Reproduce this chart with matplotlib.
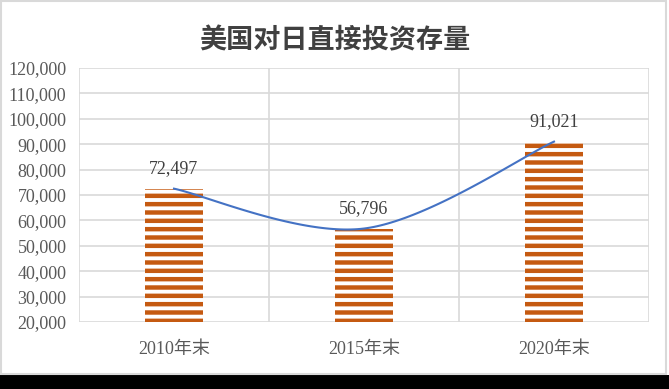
import matplotlib
matplotlib.use("Agg")
import matplotlib.pyplot as plt
from matplotlib.patches import Rectangle
from matplotlib.ticker import FuncFormatter
import numpy as np

categories = ["2010年末", "2015年末", "2020年末"]
values = [72497, 56796, 91021]
y_ticks = list(range(20000, 120001, 10000))

plt.rcParams['font.family'] = ['Liberation Serif', 'Noto Sans CJK SC']
plt.rcParams['hatch.linewidth'] = 3.2

fig = plt.figure(figsize=(6.69, 3.89), dpi=100)
ax = fig.add_axes([79 / 669, 67 / 389, 570 / 669, 254 / 389])

x = np.arange(len(categories))
ax.bar(x, [v - y_ticks[0] for v in values], bottom=y_ticks[0], width=0.31,
       facecolor='white', edgecolor='#C55A11', hatch='--', linewidth=0, zorder=2)


def smooth(xs, ys, n=60):
    # Catmull-Rom style smoothing like Excel's smoothed line
    px = np.concatenate([[xs[0]], xs, [xs[-1]]]).astype(float)
    py = np.concatenate([[ys[0]], ys, [ys[-1]]]).astype(float)
    ox, oy = [], []
    for i in range(1, len(px) - 2):
        p0, p1, p2, p3 = (np.array([px[j], py[j]]) for j in range(i - 1, i + 3))
        c1 = p1 + (p2 - p0) / 6
        c2 = p2 - (p3 - p1) / 6
        t = np.linspace(0, 1, n)[:, None]
        pts = ((1 - t) ** 3) * p1 + 3 * ((1 - t) ** 2) * t * c1 + 3 * (1 - t) * t ** 2 * c2 + t ** 3 * p2
        ox.extend(pts[:, 0])
        oy.extend(pts[:, 1])
    return ox, oy


sx, sy = smooth(x, values)
ax.plot(sx, sy, color='#4472C4', linewidth=1.5, zorder=3)

for xi, v in zip(x, values):
    ax.text(xi, v + 4600, f"{v:,}", ha='center', va='bottom', fontsize=13,
            color='#404040', zorder=4)

ax.set_xlim(-0.5, 2.5)
ax.set_ylim(y_ticks[0], y_ticks[-1])
ax.set_yticks(y_ticks)
ax.yaxis.set_major_formatter(FuncFormatter(lambda v, p: f"{int(v):,}"))
ax.set_xticks(x)
ax.set_xticklabels(categories)
ax.set_xticks(np.arange(-0.5, 3, 1), minor=True)
ax.tick_params(axis='both', which='both', length=0, labelsize=13, labelcolor='#595959')
ax.tick_params(axis='x', pad=14)
ax.tick_params(axis='y', pad=9)
ax.grid(axis='y', which='major', color='#D9D9D9', linewidth=1.2, zorder=0)
ax.grid(axis='x', which='minor', color='#D9D9D9', linewidth=1.2, zorder=0)
for s in ax.spines.values():
    s.set_visible(False)
ax.set_axisbelow(True)

fig.text(0.5, 1 - 40 / 389, "美国对日直接投资存量", ha='center', va='center',
         fontsize=19.5, fontweight='bold', color='#404040', family=['Noto Sans CJK SC'])

# frame and black band at bottom
fig.patches.append(Rectangle((0, 0), 1, 14 / 389, transform=fig.transFigure,
                             facecolor='black', edgecolor='none'))
fig.patches.append(Rectangle((0.002, 15 / 389), 0.994, 1 - 16 / 389, transform=fig.transFigure,
                             facecolor='none', edgecolor='#D9D9D9', linewidth=1.5))

fig.savefig("out.png", dpi=100)
